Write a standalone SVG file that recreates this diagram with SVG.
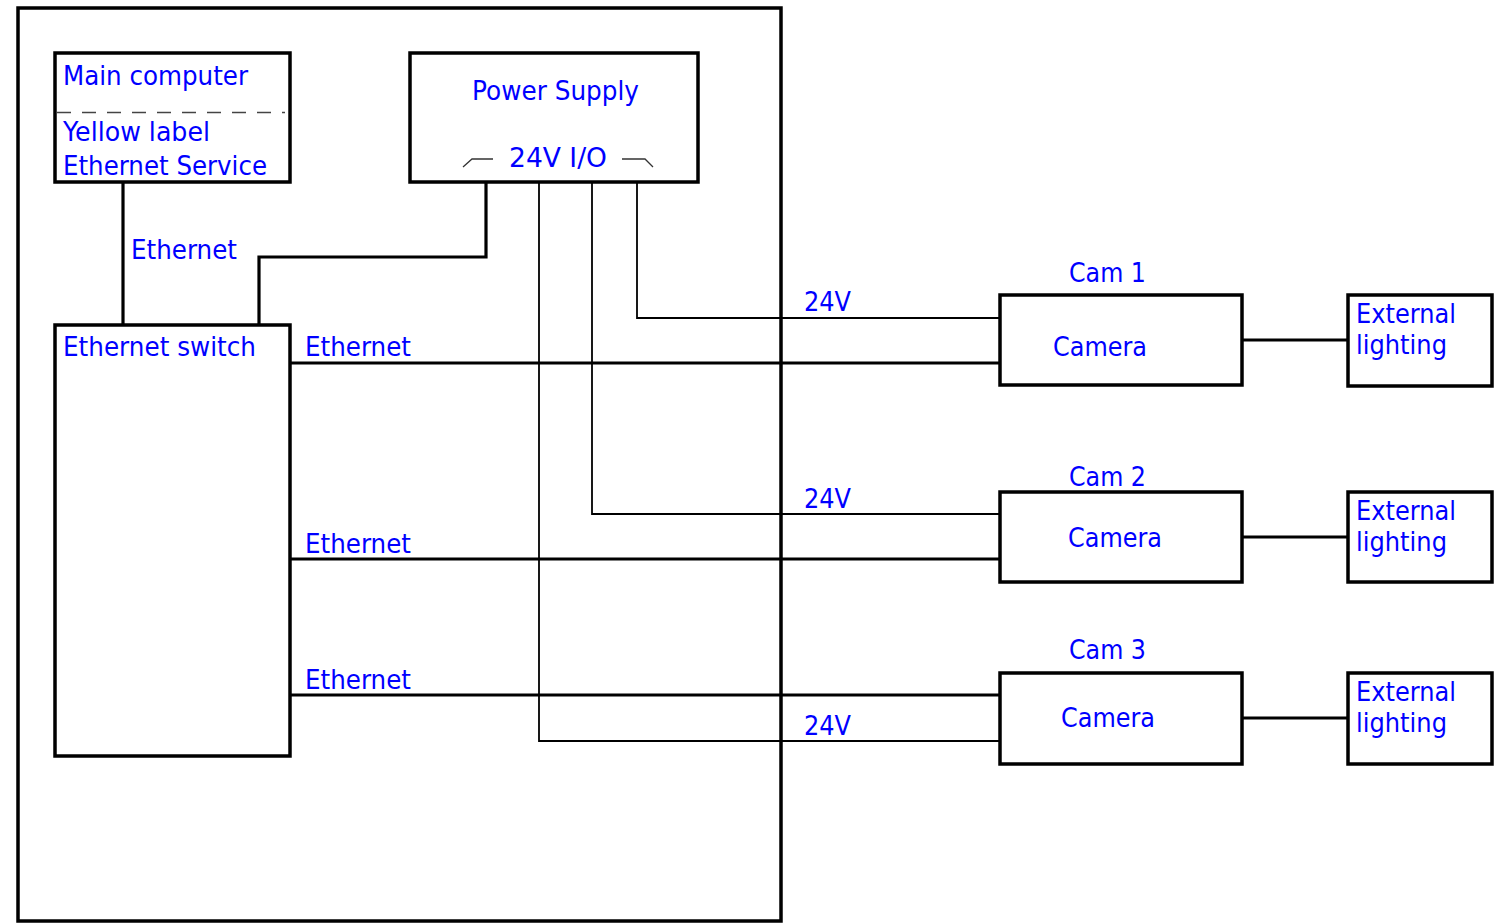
<svg xmlns="http://www.w3.org/2000/svg" width="1505" height="924" viewBox="0 0 1505 924">
<style>
  text { font-family: "DejaVu Sans", Verdana, sans-serif; font-size: 26px; fill: #0000ff; }
  .box { fill: #ffffff; stroke: #000000; stroke-width: 3.5; }
  .thick { fill: none; stroke: #000000; stroke-width: 3.2; }
  .thin { fill: none; stroke: #000000; stroke-width: 1.8; }
  .hair { fill: none; stroke: #333333; stroke-width: 1.3; }
</style>
<rect width="1505" height="924" fill="#ffffff"/>
<g id="cabinet">
  <rect class="box" x="18" y="8" width="763" height="913" fill="none"/>
</g>
<g id="connectors">
  <path class="thick" d="M123,182 V325"/>
  <path class="thick" d="M486,182 V257 H259 V325"/>
  <path class="thin" d="M637,182 V318 H1000"/>
  <path class="thin" d="M592,182 V514 H1000"/>
  <path class="thin" d="M539,182 V741 H1000"/>
  <path class="thick" d="M290,363 H1000"/>
  <path class="thick" d="M290,559 H1000"/>
  <path class="thick" d="M290,695 H1000"/>
  <path class="thick" d="M1242,340 H1348"/>
  <path class="thick" d="M1242,537 H1348"/>
  <path class="thick" d="M1242,718 H1348"/>
  <text x="131" y="259" textLength="106" lengthAdjust="spacingAndGlyphs">Ethernet</text>
  <text x="305" y="356" textLength="106" lengthAdjust="spacingAndGlyphs">Ethernet</text>
  <text x="305" y="553" textLength="106" lengthAdjust="spacingAndGlyphs">Ethernet</text>
  <text x="305" y="689" textLength="106" lengthAdjust="spacingAndGlyphs">Ethernet</text>
  <text x="804" y="311" textLength="47" lengthAdjust="spacingAndGlyphs">24V</text>
  <text x="804" y="508" textLength="47" lengthAdjust="spacingAndGlyphs">24V</text>
  <text x="804" y="735" textLength="47" lengthAdjust="spacingAndGlyphs">24V</text>
</g>
<g id="main-computer">
  <rect class="box" x="55" y="53" width="235" height="129"/>
  <line x1="57" y1="112.5" x2="285" y2="112.5" stroke="#444444" stroke-width="1.3" stroke-dasharray="14,11"/>
  <text x="63" y="85" textLength="185" lengthAdjust="spacingAndGlyphs">Main computer</text>
  <text x="63" y="141" textLength="147" lengthAdjust="spacingAndGlyphs">Yellow label</text>
  <text x="63" y="175" textLength="204" lengthAdjust="spacingAndGlyphs">Ethernet Service</text>
</g>
<g id="power-supply">
  <rect class="box" x="410" y="53" width="288" height="129"/>
  <text x="472" y="100" textLength="167" lengthAdjust="spacingAndGlyphs">Power Supply</text>
  <text x="509" y="167" textLength="98" lengthAdjust="spacingAndGlyphs">24V I/O</text>
  <path class="hair" d="M463,167 L472,159 H493"/>
  <path class="hair" d="M622,159 H645 L653,167"/>
</g>
<g id="ethernet-switch">
  <rect class="box" x="55" y="325" width="235" height="431"/>
  <text x="63" y="356" textLength="193" lengthAdjust="spacingAndGlyphs">Ethernet switch</text>
</g>
<g id="cam1">
  <text x="1069" y="282" textLength="77" lengthAdjust="spacingAndGlyphs">Cam 1</text>
  <rect class="box" x="1000" y="295" width="242" height="90"/>
  <text x="1053" y="356" textLength="94" lengthAdjust="spacingAndGlyphs">Camera</text>
</g>
<g id="cam2">
  <text x="1069" y="486" textLength="77" lengthAdjust="spacingAndGlyphs">Cam 2</text>
  <rect class="box" x="1000" y="492" width="242" height="90"/>
  <text x="1068" y="547" textLength="94" lengthAdjust="spacingAndGlyphs">Camera</text>
</g>
<g id="cam3">
  <text x="1069" y="659" textLength="77" lengthAdjust="spacingAndGlyphs">Cam 3</text>
  <rect class="box" x="1000" y="673" width="242" height="91"/>
  <text x="1061" y="727" textLength="94" lengthAdjust="spacingAndGlyphs">Camera</text>
</g>
<g id="lighting1">
  <rect class="box" x="1348" y="295" width="144" height="91"/>
  <text x="1356" y="323" textLength="100" lengthAdjust="spacingAndGlyphs">External</text>
  <text x="1356" y="354" textLength="91" lengthAdjust="spacingAndGlyphs">lighting</text>
</g>
<g id="lighting2">
  <rect class="box" x="1348" y="492" width="144" height="90"/>
  <text x="1356" y="520" textLength="100" lengthAdjust="spacingAndGlyphs">External</text>
  <text x="1356" y="551" textLength="91" lengthAdjust="spacingAndGlyphs">lighting</text>
</g>
<g id="lighting3">
  <rect class="box" x="1348" y="673" width="144" height="91"/>
  <text x="1356" y="701" textLength="100" lengthAdjust="spacingAndGlyphs">External</text>
  <text x="1356" y="732" textLength="91" lengthAdjust="spacingAndGlyphs">lighting</text>
</g>
</svg>
